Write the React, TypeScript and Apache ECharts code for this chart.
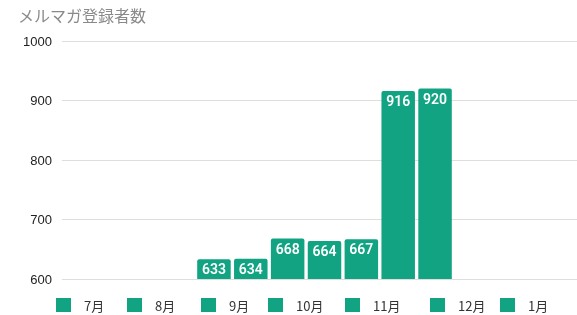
import React, { useEffect, useRef } from "react";
import * as echarts from "echarts";

const months = ["7月", "8月", "9月", "10月", "11月", "12月", "1月"];
const subscribers = [633, 634, 668, 664, 667, 916, 920];
const yTicks = [600, 700, 800, 900, 1000];
const title = "メルマガ登録者数";

const BAR_COLOR = "#12a383";
const legendLefts = [51, 122, 196, 263, 340, 425, 495];

export default function App() {
  const ref = useRef<HTMLDivElement>(null);
  useEffect(() => {
    const chart = echarts.init(ref.current!, null, { renderer: "svg" });
    const option: any = {
      animation: false,
      title: {
        text: title,
        left: 13,
        top: 2,
        textStyle: {
          fontSize: 16,
          fontWeight: "normal",
          color: "#8a8a8a",
          fontFamily: "Noto Sans CJK JP",
        },
      },
      legend: months.map((m, i) => ({
        data: [m],
        left: legendLefts[i],
        top: 293,
        itemWidth: 15,
        itemHeight: 14,
        icon: "rect",
        textStyle: {
          fontSize: 13,
          color: "#333",
          padding: [0, 0, 0, 8],
          fontFamily: "Noto Sans CJK JP",
        },
      })),
      grid: [
        { left: 62, right: 0, top: 41, bottom: 36 },
        { left: 72, right: 0, top: 41, bottom: 36 },
      ],
      xAxis: [
        {
          type: "category",
          gridIndex: 0,
          data: [""],
          axisLine: { show: false },
          axisTick: { show: false },
          axisLabel: { show: false },
        },
        {
          type: "category",
          gridIndex: 1,
          data: [""],
          axisLine: { show: false },
          axisTick: { show: false },
          axisLabel: { show: false },
        },
      ],
      yAxis: [
        {
          type: "value",
          gridIndex: 0,
          min: yTicks[0],
          max: yTicks[yTicks.length - 1],
          interval: 100,
          axisLabel: {
            fontSize: 13,
            color: "#222",
            margin: 10,
            fontFamily: "Liberation Sans",
            formatter: (v: number) => String(v),
          },
          splitLine: { lineStyle: { color: "#dedede", width: 1 } },
          axisLine: { show: false },
          axisTick: { show: false },
        },
        {
          type: "value",
          gridIndex: 1,
          min: yTicks[0],
          max: yTicks[yTicks.length - 1],
          interval: 100,
          axisLabel: { show: false },
          splitLine: { show: false },
          axisLine: { show: false },
          axisTick: { show: false },
        },
      ],
      series: months.map((m, i) => ({
        name: m,
        type: "bar",
        xAxisIndex: 1,
        yAxisIndex: 1,
        data: [subscribers[i]],
        barWidth: 33.5,
        barGap: "10%",
        itemStyle: { color: BAR_COLOR, borderRadius: [2, 2, 0, 0] },
        label: {
          show: true,
          position: "insideTop",
          distance: 3,
          color: "#fff",
          fontSize: 14,
          fontWeight: 600,
          fontFamily: "Roboto",
        },
      })),
    };
    chart.setOption(option);
    return () => chart.dispose();
  }, []);
  return (
    <div
      ref={ref}
      style={{ position: "fixed", left: 0, top: 0, width: 577, height: 315 }}
    />
  );
}
